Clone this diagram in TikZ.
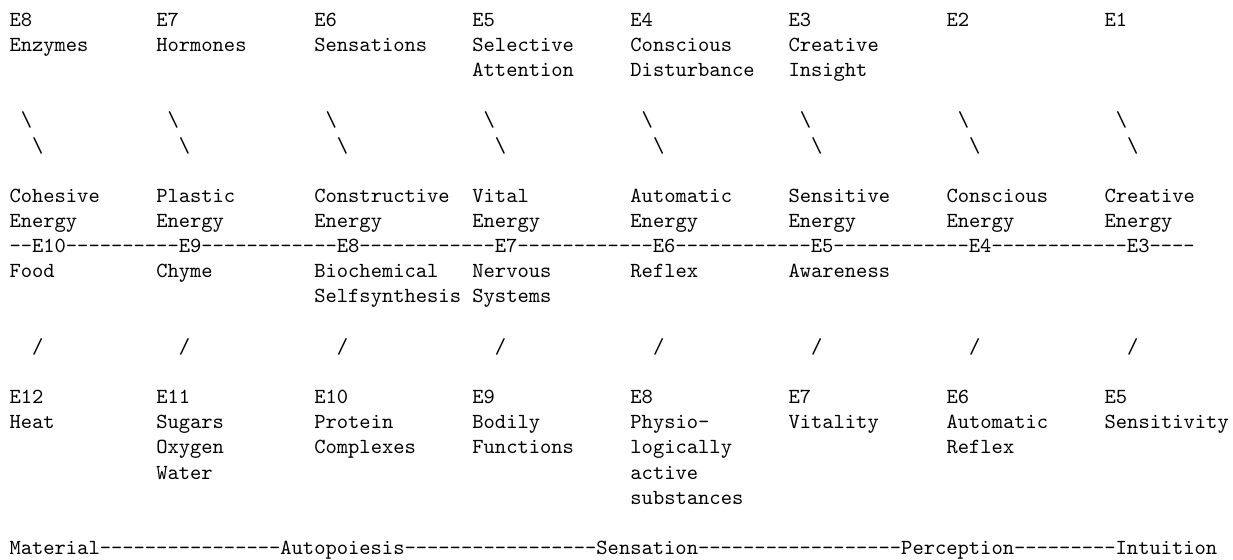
\documentclass[tikz,border=0pt]{standalone}
\font\asciifont=cmtt10 at 21.5pt
\def\dashrun#1{\ifnum#1>0 -\expandafter\dashrun\expandafter{\the\numexpr#1-1\relax}\fi}
\newcommand\asciiput[4]{\node[txt] (#1) at ({9.5+11.29*#2},{26.3+25.15*#3}) {#4};}
\begin{document}
\begin{tikzpicture}[x=1pt,y=-1pt,
  txt/.style={anchor=base west,inner sep=0pt,outer sep=0pt,font=\asciifont,text=black}]
\path[fill=white,use as bounding box] (0,0) rectangle (1233,559);
% row 0
\asciiput{ta}{0}{0}{E8}
\asciiput{tb}{13}{0}{E7}
\asciiput{tc}{27}{0}{E6}
\asciiput{td}{41}{0}{E5}
\asciiput{te}{55}{0}{E4}
\asciiput{tf}{69}{0}{E3}
\asciiput{tg}{83}{0}{E2}
\asciiput{th}{97}{0}{E1}
% row 1-2
\asciiput{ta1}{0}{1}{Enzymes}
\asciiput{tb1}{13}{1}{Hormones}
\asciiput{tc1}{27}{1}{Sensations}
\asciiput{td1}{41}{1}{Selective}
\asciiput{te1}{55}{1}{Conscious}
\asciiput{tf1}{69}{1}{Creative}
\asciiput{td2}{41}{2}{Attention}
\asciiput{te2}{55}{2}{Disturbance}
\asciiput{tf2}{69}{2}{Insight}
% backslashes
\asciiput{ba1}{1}{4}{\char92}
\asciiput{bb1}{14}{4}{\char92}
\asciiput{bc1}{28}{4}{\char92}
\asciiput{bd1}{42}{4}{\char92}
\asciiput{be1}{56}{4}{\char92}
\asciiput{bf1}{70}{4}{\char92}
\asciiput{bg1}{84}{4}{\char92}
\asciiput{bh1}{98}{4}{\char92}
\asciiput{ba2}{2}{5}{\char92}
\asciiput{bb2}{15}{5}{\char92}
\asciiput{bc2}{29}{5}{\char92}
\asciiput{bd2}{43}{5}{\char92}
\asciiput{be2}{57}{5}{\char92}
\asciiput{bf2}{71}{5}{\char92}
\asciiput{bg2}{85}{5}{\char92}
\asciiput{bh2}{99}{5}{\char92}
% energies
\asciiput{ma}{0}{7}{Cohesive}
\asciiput{mb}{13}{7}{Plastic}
\asciiput{mc}{27}{7}{Constructive}
\asciiput{md}{41}{7}{Vital}
\asciiput{me}{55}{7}{Automatic}
\asciiput{mf}{69}{7}{Sensitive}
\asciiput{mg}{83}{7}{Conscious}
\asciiput{mh}{97}{7}{Creative}
\asciiput{ma2}{0}{8}{Energy}
\asciiput{mb2}{13}{8}{Energy}
\asciiput{mc2}{27}{8}{Energy}
\asciiput{md2}{41}{8}{Energy}
\asciiput{me2}{55}{8}{Energy}
\asciiput{mf2}{69}{8}{Energy}
\asciiput{mg2}{83}{8}{Energy}
\asciiput{mh2}{97}{8}{Energy}
% axis line
\asciiput{axis}{0}{9}{--E10\dashrun{10}E9\dashrun{12}E8\dashrun{12}E7\dashrun{12}E6\dashrun{12}E5\dashrun{12}E4\dashrun{12}E3\dashrun{4}}
% below axis
\asciiput{la}{0}{10}{Food}
\asciiput{lb}{13}{10}{Chyme}
\asciiput{lc}{27}{10}{Biochemical}
\asciiput{ld}{41}{10}{Nervous}
\asciiput{le}{55}{10}{Reflex}
\asciiput{lf}{69}{10}{Awareness}
\asciiput{lc2}{27}{11}{Selfsynthesis}
\asciiput{ld2}{41}{11}{Systems}
% slashes
\asciiput{sa}{2}{13}{/}
\asciiput{sb}{15}{13}{/}
\asciiput{sc}{29}{13}{/}
\asciiput{sd}{43}{13}{/}
\asciiput{se}{57}{13}{/}
\asciiput{sf}{71}{13}{/}
\asciiput{sg}{85}{13}{/}
\asciiput{sh}{99}{13}{/}
% bottom levels
\asciiput{ua}{0}{15}{E12}
\asciiput{ub}{13}{15}{E11}
\asciiput{uc}{27}{15}{E10}
\asciiput{ud}{41}{15}{E9}
\asciiput{ue}{55}{15}{E8}
\asciiput{uf}{69}{15}{E7}
\asciiput{ug}{83}{15}{E6}
\asciiput{uh}{97}{15}{E5}
\asciiput{ua1}{0}{16}{Heat}
\asciiput{ub1}{13}{16}{Sugars}
\asciiput{uc1}{27}{16}{Protein}
\asciiput{ud1}{41}{16}{Bodily}
\asciiput{ue1}{55}{16}{Physio-}
\asciiput{uf1}{69}{16}{Vitality}
\asciiput{ug1}{83}{16}{Automatic}
\asciiput{uh1}{97}{16}{Sensitivity}
\asciiput{ub2}{13}{17}{Oxygen}
\asciiput{uc2}{27}{17}{Complexes}
\asciiput{ud2}{41}{17}{Functions}
\asciiput{ue2}{55}{17}{logically}
\asciiput{ug2}{83}{17}{Reflex}
\asciiput{ub3}{13}{18}{Water}
\asciiput{ue3}{55}{18}{active}
\asciiput{ue4}{55}{19}{substances}
% bottom line
\asciiput{base}{0}{21}{Material\dashrun{16}Autopoiesis\dashrun{17}Sensation\dashrun{18}Perception\dashrun{9}Intuition}
\end{tikzpicture}
\end{document}
